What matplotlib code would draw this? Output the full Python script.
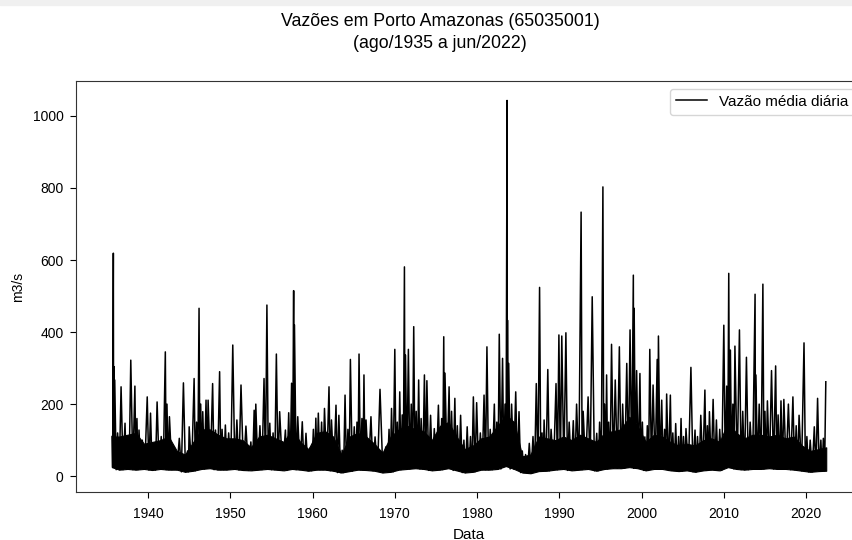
import numpy as np
import matplotlib
matplotlib.use("Agg")
import matplotlib.pyplot as plt
from matplotlib.patches import Rectangle

# picos visíveis (ano decimal, m3/s)
peak_dates = [
    1935.62, 1935.78, 1935.85, 1935.95, 1936.3, 1936.72, 1937.2, 1937.5, 1937.9, 1938.4,
    1938.65, 1938.9, 1939.3, 1939.9, 1940.3, 1940.7, 1941.1, 1941.6, 1942.1, 1942.3,
    1942.6, 1943.2, 1943.8, 1944.3, 1944.8, 1945.0, 1945.6, 1945.9, 1946.2, 1946.4,
    1946.65, 1947.05, 1947.3, 1947.85, 1948.2, 1948.7, 1949.0, 1949.4, 1949.8, 1950.3,
    1950.8, 1951.3, 1951.9, 1952.5, 1952.9, 1953.1, 1953.6, 1954.1, 1954.45, 1954.8,
    1955.2, 1955.6, 1956.0, 1956.7, 1957.1, 1957.45, 1957.7, 1957.8, 1958.2, 1958.75,
    1959.2, 1959.7, 1960.1, 1960.4, 1960.7, 1961.1, 1961.45, 1962.0, 1962.3, 1962.85,
    1963.2, 1963.6, 1963.95, 1964.3, 1964.6, 1965.07, 1965.4, 1965.65, 1966.0, 1966.25,
    1966.5, 1967.1, 1967.6, 1968.2, 1968.9, 1969.3, 1969.6, 1970.0, 1970.3, 1970.6,
    1970.9, 1971.17, 1971.3, 1971.65, 1972.0, 1972.3, 1972.6, 1972.9, 1973.2, 1973.6,
    1973.9, 1974.35, 1974.8, 1975.3, 1975.7, 1975.95, 1976.1, 1976.6, 1976.9, 1977.3,
    1977.6, 1978.0, 1978.4, 1978.8, 1979.2, 1979.55, 1979.95, 1980.4, 1980.85, 1981.2,
    1981.6, 1982.1, 1982.4, 1982.7, 1983.1, 1983.4, 1983.65, 1983.7, 1983.85, 1984.2,
    1984.7, 1985.1, 1985.5, 1985.9, 1986.35, 1986.8, 1987.2, 1987.6, 1987.9, 1988.15,
    1988.6, 1989.0, 1989.6, 1989.95, 1990.3, 1990.8, 1991.2, 1991.7, 1992.1, 1992.65,
    1992.9, 1993.5, 1994.0, 1994.55, 1994.9, 1995.3, 1995.5, 1995.75, 1996.0, 1996.35,
    1996.8, 1997.3, 1997.7, 1998.2, 1998.6, 1999.0, 1999.1, 1999.4, 1999.8, 2000.1,
    2000.4, 2000.7, 2001.0, 2001.4, 2001.9, 2002.05, 2002.45, 2002.8, 2003.05, 2003.5,
    2003.8, 2004.15, 2004.5, 2004.8, 2005.1, 2005.4, 2006.0, 2006.5, 2006.8, 2007.2,
    2007.7, 2008.0, 2008.25, 2008.7, 2009.1, 2009.5, 2010.0, 2010.35, 2010.6, 2010.8,
    2011.1, 2011.35, 2011.9, 2012.3, 2012.75, 2013.2, 2013.8, 2013.9, 2014.3, 2014.75,
    2015.0, 2015.3, 2015.8, 2016.3, 2016.6, 2016.95, 2017.3, 2017.85, 2018.4, 2018.8,
    2019.15, 2019.75, 2020.1, 2020.5, 2021.0, 2021.4, 2021.8, 2022.1, 2022.4,
]
peak_flows = [
    110, 619, 304, 267, 120, 248, 147, 110, 322, 250,
    160, 128, 100, 220, 175, 81, 206, 110, 345, 200,
    165, 68, 105, 259, 70, 137, 271, 150, 466, 200,
    179, 211, 211, 257, 128, 290, 130, 142, 120, 364,
    156, 253, 139, 95, 183, 200, 140, 271, 475, 147,
    120, 339, 179, 128, 176, 258, 515, 420, 165, 151,
    119, 78, 130, 161, 175, 150, 188, 248, 156, 197,
    169, 72, 225, 130, 324, 137, 150, 339, 160, 281,
    156, 165, 109, 241, 81, 130, 188, 352, 150, 234,
    170, 581, 336, 352, 200, 415, 180, 267, 160, 281,
    265, 169, 132, 197, 160, 387, 286, 248, 180, 216,
    140, 169, 100, 137, 110, 220, 204, 120, 225, 359,
    130, 200, 150, 394, 327, 200, 1043, 433, 313, 200,
    234, 179, 70, 60, 91, 110, 257, 524, 120, 156,
    296, 130, 257, 392, 389, 398, 150, 154, 200, 733,
    180, 220, 498, 119, 150, 803, 200, 281, 150, 366,
    267, 359, 200, 313, 406, 558, 466, 293, 285, 150,
    109, 140, 352, 253, 324, 389, 211, 130, 228, 225,
    120, 146, 110, 160, 110, 132, 302, 128, 110, 169,
    239, 140, 179, 213, 156, 130, 419, 250, 563, 350,
    200, 361, 406, 180, 330, 150, 505, 281, 200, 533,
    180, 209, 293, 306, 170, 209, 213, 200, 220, 140,
    169, 370, 110, 100, 137, 216, 100, 105, 262,
]

# vazão mínima e topo da faixa densa, por ano (1935 a 2022)
years = np.arange(1935, 2023)
yearly_min = [
    25, 18, 20, 18, 20, 17, 20, 18, 18, 12,
    15, 20, 22, 18, 18, 20, 17, 16, 18, 20,
    18, 16, 20, 18, 15, 18, 18, 15, 10, 14,
    18, 17, 15, 10, 12, 18, 20, 22, 20, 16,
    18, 22, 16, 10, 12, 18, 18, 20, 28, 20,
    10, 8, 14, 15, 18, 20, 16, 18, 20, 15,
    20, 22, 22, 25, 22, 16, 20, 20, 16, 14,
    16, 12, 16, 18, 16, 25, 20, 18, 20, 20,
    22, 20, 20, 18, 15, 12, 14, 15,
]
yearly_band = [
    110, 110, 115, 120, 90, 95, 100, 110, 70, 60,
    95, 130, 130, 115, 105, 105, 100, 80, 110, 115,
    105, 95, 130, 95, 75, 120, 125, 110, 60, 110,
    120, 110, 90, 65, 110, 130, 140, 130, 125, 100,
    140, 150, 110, 75, 85, 105, 110, 140, 170, 150,
    55, 60, 110, 105, 100, 110, 100, 115, 105, 95,
    120, 125, 130, 165, 140, 95, 115, 110, 95, 85,
    90, 85, 100, 105, 95, 150, 120, 105, 115, 115,
    110, 115, 105, 110, 85, 70, 75, 80,
]

plt.rcParams["font.family"] = ["Liberation Sans", "DejaVu Sans"]

# série em ziguezague: cada pico seguido de um vale
dates, flows = [], []
for i, (d, q) in enumerate(zip(peak_dates, peak_flows)):
    dates.append(d)
    flows.append(q)
    if i < len(peak_dates) - 1:
        mid = (d + peak_dates[i + 1]) / 2
        dates.append(mid)
        flows.append(yearly_min[int(mid) - 1935])

band_x = years + 0.5
band_x[0] = 1935.6
band_x[-1] = 2022.45

fig = plt.figure(figsize=(8.52, 5.40), dpi=100)
fig.patches.append(Rectangle((0, 1 - 5 / 540), 1, 5 / 540, transform=fig.transFigure,
                             color="#f0f0f0", zorder=0))
ax = fig.add_axes([76 / 852, 48 / 540, 786 / 852, 411 / 540])

ax.fill_between(band_x, yearly_min, yearly_band, color="black", lw=0.8)
ax.plot(dates, flows, color="black", lw=1.1, label="Vazão média diária")

ax.set_xlim(1931.24, 2026.8)
ax.set_ylim(-44, 1097)
ax.set_xticks(np.arange(1940, 2021, 10))
ax.set_yticks([0, 200, 400, 600, 800, 1000])
ax.tick_params(axis="x", labelsize=10, length=4.5, pad=6)
ax.tick_params(axis="y", labelsize=10, length=4.5, pad=4.5)
for s in ax.spines.values():
    s.set_color("#333333")
ax.set_xlabel("Data", fontsize=11, labelpad=5)
ax.set_ylabel("m3/s", fontsize=10, labelpad=5.5)
ax.legend(loc="upper right", fontsize=11)

fig.text(440 / 852, 1 - 22 / 540, "Vazões em Porto Amazonas (65035001)",
         ha="center", va="center", fontsize=12.8)
fig.text(440 / 852, 1 - 43 / 540, "(ago/1935 a jun/2022)",
         ha="center", va="center", fontsize=12.8)

fig.savefig("out.png", dpi=100)
